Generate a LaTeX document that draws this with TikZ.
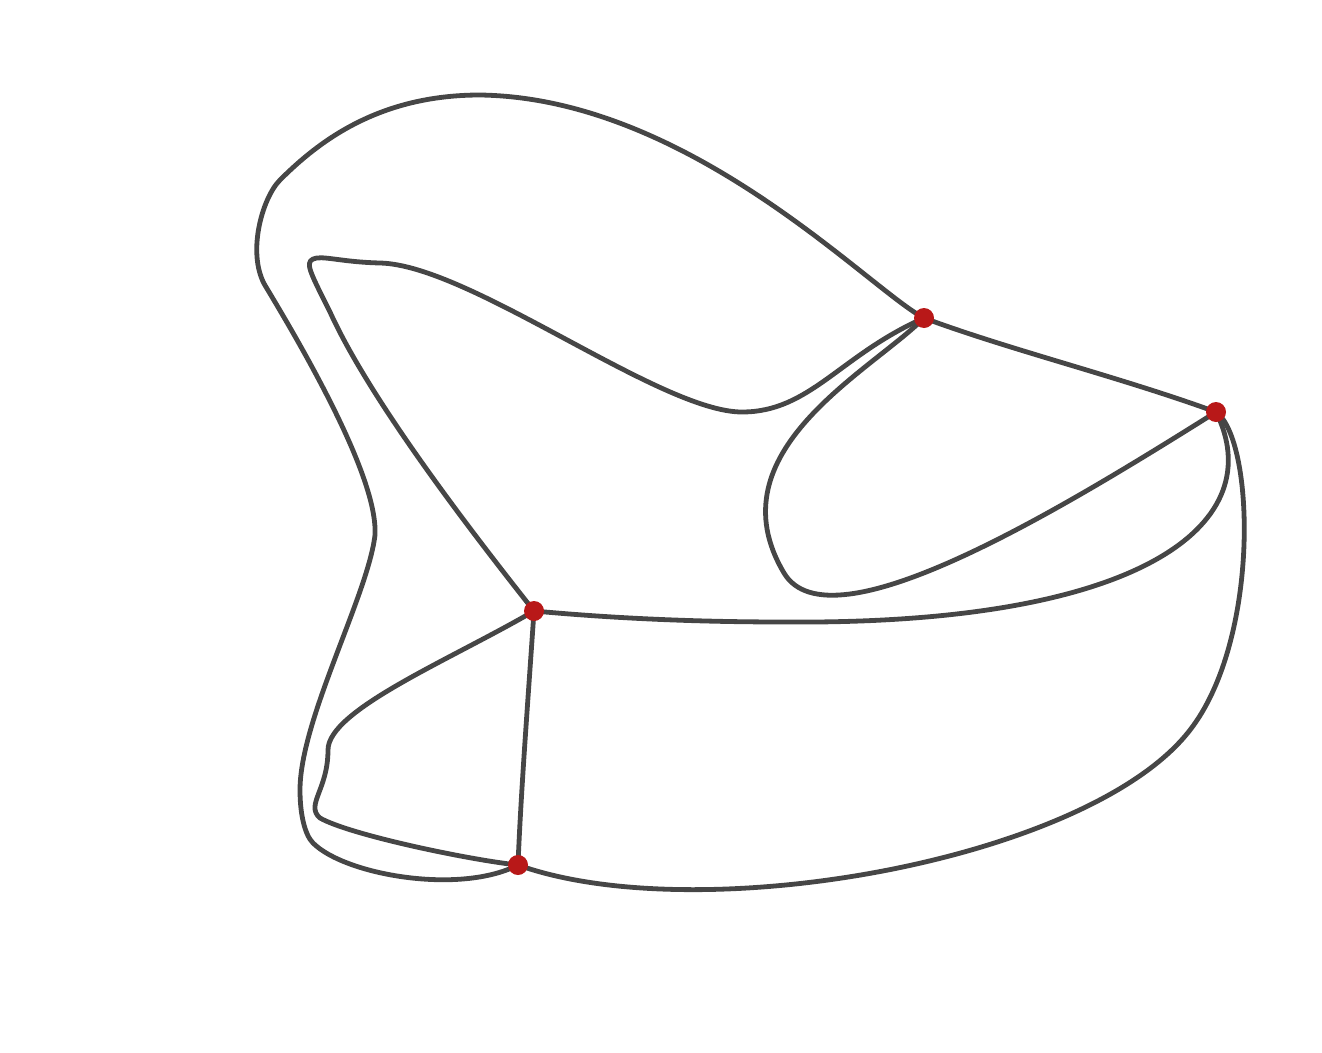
\documentclass[tikz,border=0pt]{standalone}
\begin{document}
\begin{tikzpicture}[x=1pt,y=-1pt,
  edge/.style={draw=edgegray,line width=4.8pt,line cap=round,line join=round},
  vert/.style={circle,fill=vred,inner sep=0pt,minimum size=20pt}]
\definecolor{edgegray}{HTML}{464646}
\definecolor{vred}{HTML}{B81818}
\useasboundingbox (0,0) rectangle (1322,1052);
\coordinate (A) at (924,318);
\coordinate (B) at (1216,412);
\coordinate (C) at (534,611);
\coordinate (D) at (518,865);
% outer A-D
\draw[edge] (A) .. controls (870,290) and (690,98) .. (480,95)
  .. controls (380,95) and (320,140) .. (280,180)
  .. controls (262,198) and (246,255) .. (266,287)
  .. controls (310,360) and (378,480) .. (375,535)
  .. controls (368,595) and (300,720) .. (300,790)
  .. controls (300,815) and (305,835) .. (313,843)
  .. controls (345,875) and (460,895) .. (D);
% A-C inner
\draw[edge] (A) .. controls (840,355) and (810,412) .. (742,412)
  .. controls (660,412) and (470,265) .. (380,263)
  .. controls (340,262) and (322,255) .. (313,259)
  .. controls (305,263) and (310,272) .. (330,312)
  .. controls (370,400) and (470,530) .. (C);
% A-B
\draw[edge] (A) .. controls (1010,350) and (1120,377) .. (B);
% A-B loop
\draw[edge] (A) .. controls (870,372) and (712,452) .. (784,573)
  .. controls (830,650) and (1060,510) .. (B);
% B-C
\draw[edge] (B) .. controls (1270,520) and (1150,625) .. (785,622)
  .. controls (680,622) and (600,617) .. (C);
% B-D
\draw[edge] (B) .. controls (1255,440) and (1260,640) .. (1190,730)
  .. controls (1090,860) and (700,930) .. (D);
% C-D straight
\draw[edge] (C) .. controls (528,700) and (521,790) .. (D);
% C-D left
\draw[edge] (C) .. controls (450,660) and (328,710) .. (328,750)
  .. controls (328,790) and (305,805) .. (320,818)
  .. controls (350,835) and (470,860) .. (D);
\node[vert] (vA) at (A) {};
\node[vert] (vB) at (B) {};
\node[vert] (vC) at (C) {};
\node[vert] (vD) at (D) {};
\end{tikzpicture}
\end{document}
